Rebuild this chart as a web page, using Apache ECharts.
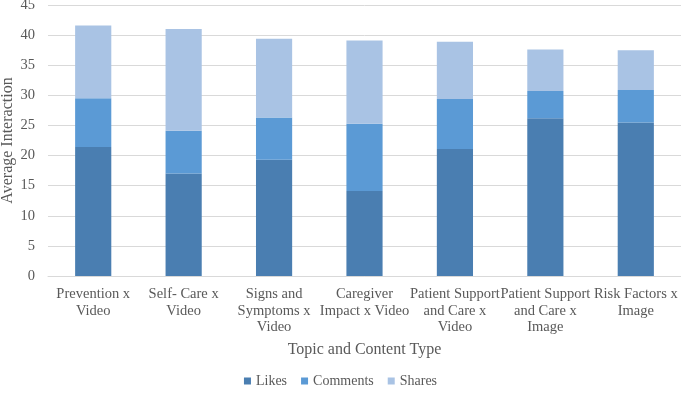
<!DOCTYPE html>
<html><head><meta charset="utf-8">
<script src="https://cdn.jsdelivr.net/npm/echarts@6/dist/echarts.min.js"></script>
<style>html,body{margin:0;padding:0;background:#fff}#c{width:681px;height:394px}</style>
</head><body><div id="c"></div>
<script>
const categories = ["Prevention x\nVideo","Self- Care x\nVideo","Signs and\nSymptoms x\nVideo","Caregiver\nImpact x Video","Patient Support\nand Care x\nVideo","Patient Support\nand Care x\nImage","Risk Factors x\nImage"];
const likes = [21.4, 17.0, 19.3, 14.1, 21.1, 26.2, 25.5];
const comments = [8.1, 7.1, 7.0, 11.2, 8.3, 4.5, 5.4];
const shares = [12.1, 16.9, 13.1, 13.8, 9.5, 6.9, 6.6];
const yTicks = [0,5,10,15,20,25,30,35,40,45];

const font = "'Liberation Serif','Times New Roman',serif";
const chart = echarts.init(document.getElementById('c'));
const mk = (name, data, color) => ({name, type:'bar', stack:'s', data, barWidth:'40%', itemStyle:{color}});
chart.setOption({
  animation:false,
  textStyle:{fontFamily:font},
  grid:{left:48, right:0, top:5, bottom:118, containLabel:false, outerBoundsMode:'none'},
  legend:{top:369, left:'center', itemWidth:7, itemHeight:7, itemGap:14, icon:'rect',
    textStyle:{fontFamily:font, fontSize:14, color:'#595959'}},
  xAxis:{type:'category', data:categories, name:'Topic and Content Type', nameLocation:'middle', nameGap:66,
    nameMoveOverlap:false,
    nameTextStyle:{fontFamily:font, fontSize:16, color:'#595959'},
    axisLine:{lineStyle:{color:'#d9d9d9'}}, axisTick:{show:false},
    axisLabel:{interval:0, fontFamily:font, fontSize:14.5, color:'#595959', lineHeight:16.5, margin:10}},
  yAxis:{type:'value', min:yTicks[0], max:yTicks[yTicks.length-1], interval:5,
    name:'Average Interaction', nameLocation:'middle', nameGap:32, nameRotate:90, nameMoveOverlap:false,
    nameTextStyle:{fontFamily:font, fontSize:16, color:'#595959'},
    axisLabel:{fontFamily:font, fontSize:14.5, color:'#595959', margin:13},
    splitLine:{lineStyle:{color:'#d9d9d9'}}},
  series:[mk('Likes', likes, '#4a7eb1'), mk('Comments', comments, '#5b9ad5'), mk('Shares', shares, '#a9c3e4')]
});
</script></body></html>
